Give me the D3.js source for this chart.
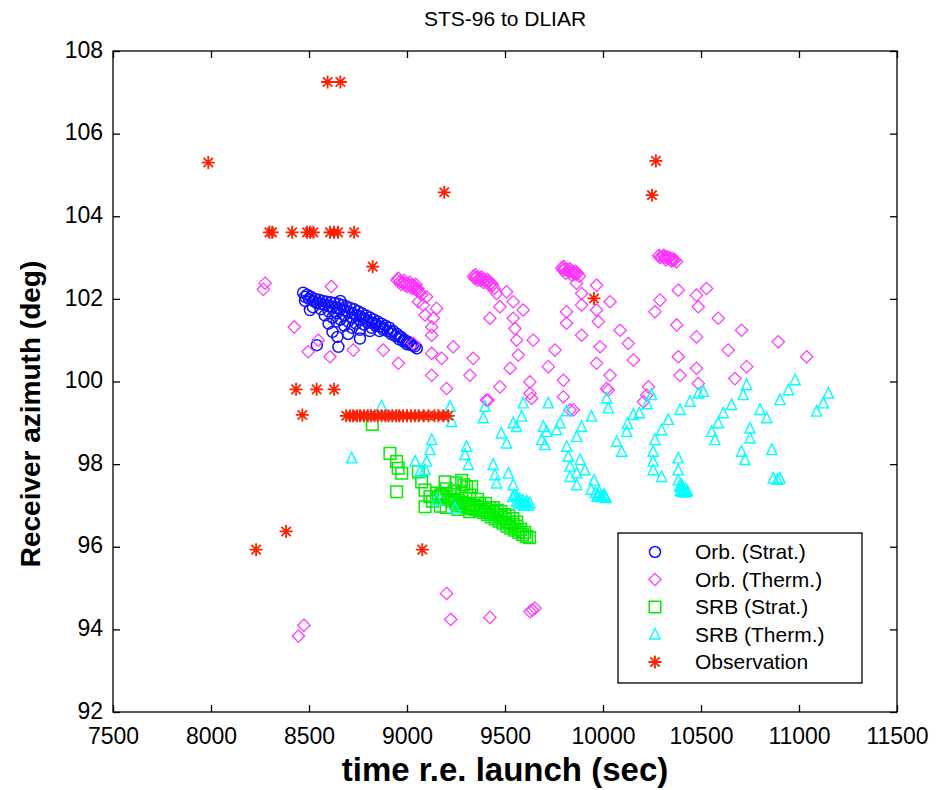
<!DOCTYPE html>
<html>
<head>
<meta charset="utf-8">
<script src="https://cdn.jsdelivr.net/npm/d3@7"></script>
<style>
  html, body { margin: 0; padding: 0; background: #fff; }
  text { font-family: "Liberation Sans", Arial, Helvetica, sans-serif; }
</style>
</head>
<body>
<svg id="chart" width="937" height="790"></svg>
<script>
// ---------------- DATA ----------------
const chartTitle = "STS-96 to DLIAR";
const xLabel = "time r.e. launch (sec)";
const yLabel = "Receiver azimuth (deg)";
const xTicks = [7500, 8000, 8500, 9000, 9500, 10000, 10500, 11000, 11500];
const yTicks = [92, 94, 96, 98, 100, 102, 104, 106, 108];
const seriesNames = ["Orb. (Strat.)", "Orb. (Therm.)", "SRB (Strat.)", "SRB (Therm.)", "Observation"];

// [time (sec), azimuth (deg)]
const orbStrat = [
  [8470,102.15],[8490,102.1],[8510,102.05],[8530,102.0],[8550,101.98],[8570,101.95],[8590,101.93],[8610,101.92],
  [8630,101.9],[8650,101.88],[8670,101.85],[8690,101.82],[8710,101.78],[8730,101.75],[8750,101.7],[8770,101.65],
  [8790,101.6],[8810,101.55],[8830,101.5],[8850,101.45],[8870,101.4],[8890,101.35],[8910,101.3],[8930,101.22],
  [8950,101.15],[8970,101.08],[8990,101.0],[9010,100.95],[9030,100.88],[9050,100.8],
  [8520,101.8],[8560,101.75],[8600,101.7],[8640,101.65],[8680,101.6],[8720,101.55],[8760,101.5],[8800,101.42],
  [8840,101.35],[8880,101.25],[8920,101.15],[8960,101.02],[9000,100.9],
  [8480,102.05],[8500,102.0],[8520,101.95],[8540,101.9],[8560,101.88],[8580,101.85],[8600,101.82],[8620,101.8],
  [8640,101.78],[8660,101.75],[8680,101.72],[8700,101.68],[8720,101.65],[8740,101.6],[8760,101.58],[8780,101.53],
  [8800,101.48],[8820,101.43],[8840,101.4],[8860,101.33],[8880,101.3],[8900,101.22],[8920,101.2],[8940,101.1],
  [8960,101.08],[8980,100.98],[9000,100.95],[9020,100.88],[9040,100.85],
  [8620,101.55],[8660,101.5],[8700,101.45],[8740,101.4],[8780,101.38],[8820,101.3],[8860,101.22],
  [8600,101.4],[8640,101.45],[8680,101.35],[8720,101.3],[8760,101.25],[8620,101.2],[8700,101.15],
  [8505,101.73],[8540,100.88],[8645,101.08],[8650,100.84],[8760,101.04],[8810,101.22],[8480,101.95],[8660,101.95],[8580,101.6]
];
const orbTherm = [
  [8276,102.38],[8267,102.23],[8614,102.3],[8425,101.32],[8496,100.72],[8547,101.0],[8607,100.6],[8726,100.76],
  [8879,100.76],[8956,100.44],[9032,100.92],
  [8950,102.45],[8965,102.42],[8980,102.4],[8995,102.38],[9010,102.35],[9025,102.33],[9040,102.3],[9055,102.25],
  [8970,102.35],[9000,102.3],[9030,102.25],[9060,102.18],[9075,102.1],
  [8955,102.5],[8985,102.45],[9015,102.4],[9045,102.35],[8990,102.33],[9020,102.28],[9050,102.2],[9065,102.15],
  [9100,102.05],[9058,101.93],[9151,101.77],[9092,101.61],[9134,101.53],[9083,101.85],[9126,101.32],[9126,101.12],
  [9236,100.84],[9126,100.68],[9177,100.56],[9338,100.56],[9126,100.15],[9321,100.15],[9202,99.83],[9405,99.55],[9474,99.87],
  [9340,102.55],[9355,102.52],[9370,102.5],[9385,102.48],[9400,102.45],[9415,102.42],[9430,102.38],[9360,102.45],
  [9390,102.4],[9420,102.33],[9445,102.25],
  [9345,102.5],[9375,102.45],[9405,102.4],[9435,102.33],[9350,102.58],[9380,102.53],[9410,102.47],
  [9457,102.13],[9508,102.17],[9423,101.53],[9474,101.81],[9542,101.93],[9593,101.73],[9542,101.53],[9551,101.28],
  [9644,101.0],[9559,101.0],[9568,100.64],[9755,100.76],[9526,100.32],[9721,100.36],[9627,99.99],[9798,100.03],
  [9627,99.71],[9414,99.55],[9798,99.63],[9849,99.31],[9636,99.59],
  [9790,102.75],[9805,102.72],[9820,102.7],[9835,102.68],[9850,102.65],[9865,102.6],[9880,102.55],[9810,102.62],[9840,102.58],
  [9795,102.7],[9825,102.65],[9855,102.6],[9800,102.78],[9830,102.73],[9860,102.67],[9870,102.62],
  [9865,102.38],[9967,102.33],[9891,102.13],[10036,101.93],[9891,101.85],[9814,101.69],[9967,101.73],[9814,101.41],
  [9976,101.45],[9891,101.12],[10087,101.24],[9985,100.84],[10129,100.92],[10155,100.52],[9967,100.44],[10036,100.15],
  [10019,99.83],[10232,99.87],[10206,99.51],[9832,99.31],
  [10285,103.05],[10300,103.02],[10315,103.0],[10330,102.98],[10345,102.95],[10360,102.93],[10375,102.9],
  [10290,103.0],[10310,103.05],[10325,103.02],[10340,103.0],[10355,102.97],[10320,102.95],[10350,102.92],[10365,102.95],
  [10291,101.97],[10384,102.21],[10265,101.69],[10477,102.09],[10528,102.25],[10486,101.81],[10376,101.37],[10588,101.53],
  [10477,101.08],[10707,101.24],[10639,100.76],[10894,100.96],[10384,100.6],[10477,100.32],[11039,100.6],[10393,100.15],
  [10733,100.36],[10673,100.07],[10486,99.95],[10027,99.79],[10223,99.67],
  [8474,94.1],[8446,93.84],[9202,94.87],[9223,94.24],[9423,94.29],[9628,94.43],[9653,94.51],[9640,94.47]
];
const srbStrat = [
  [8823,98.96],[8913,98.26],[8947,98.06],[8955,97.9],[8973,97.78],[8947,97.33],[9058,97.81],[9075,97.57],
  [9092,97.37],[9117,97.21],[9092,96.97],[9194,97.57],[9279,97.61],[9304,97.45],
  [9150,97.3],[9170,97.25],[9190,97.2],[9210,97.15],[9230,97.1],[9250,97.05],[9270,97.0],[9290,96.98],
  [9310,96.95],[9330,96.92],[9350,96.9],[9370,96.87],[9390,96.83],[9410,96.78],[9430,96.72],[9450,96.67],
  [9470,96.62],[9490,96.57],[9510,96.5],[9530,96.45],[9550,96.4],[9570,96.35],[9590,96.3],[9610,96.25],[9625,96.22],
  [9200,97.4],[9240,97.35],[9280,97.3],[9320,97.25],[9360,97.15],[9400,97.05],[9440,96.95],[9480,96.85],
  [9520,96.75],[9560,96.6],[9250,97.55],[9290,97.5],[9330,97.45],[9130,97.1],[9170,96.98],
  [9200,96.95],[9260,96.9],[9320,96.85],
  [9160,97.2],[9180,97.28],[9220,97.22],[9240,97.15],[9260,97.12],[9280,97.08],[9300,97.05],[9320,97.02],
  [9340,97.0],[9360,96.98],[9380,96.95],[9400,96.9],[9420,96.85],[9440,96.82],[9460,96.77],[9480,96.72],
  [9500,96.67],[9520,96.6],[9540,96.55],[9560,96.5],[9580,96.42],[9600,96.35],[9370,97.05],[9420,96.95],
  [9460,96.88],[9500,96.78],[9540,96.68]
];
const srbTherm = [
  [8718,98.14],[8870,99.4],[9220,99.39],[9228,99.02],[9126,98.58],[9117,98.34],[9100,98.06],[9041,98.06],
  [9066,97.81],[9092,97.86],[9304,98.42],[9296,98.22],[9313,97.98],[9151,97.13],[9245,96.93],[9398,99.39],
  [9389,99.11],[9481,98.74],[9508,98.5],[9542,98.99],[9440,97.98],[9449,97.73],[9457,97.53],[9517,97.77],
  [9542,97.49],[9559,97.21],[9585,97.05],[9627,97.05],[9540,97.2],[9560,97.1],[9575,97.15],[9600,97.0],
  [9610,97.1],[9550,97.25],[9590,97.12],[9605,97.05],[9620,97.0],[9570,97.05],[9595,97.0],
  [9593,99.47],[9585,99.15],[9559,98.9],[9721,99.47],[9696,98.9],[9713,98.78],[9704,98.46],[9687,98.58],
  [9781,98.99],[9763,98.82],[9815,98.42],[9823,98.18],[9832,97.94],[9832,97.69],[9866,97.78],[9866,97.49],
  [9866,98.66],[9814,99.28],[9941,99.15],[9891,98.9],[10019,99.59],[10027,99.35],
  [10248,99.67],[10225,99.45],[10185,99.23],[10155,99.19],[10125,98.97],[10121,98.78],[10070,98.54],[10095,98.3],
  [10333,99.07],[10299,98.82],[10265,98.58],[10256,98.3],[10256,98.06],[10256,97.85],[10299,97.69],[10384,98.14],
  [10384,97.85],[10384,97.61],[10401,97.49],[10393,99.31],[10444,99.51],[10487,99.71],[10512,99.75],
  [10656,99.43],[10614,99.23],[10588,98.99],[10554,98.78],[10571,98.58],[10733,99.91],[10716,99.67],
  [10801,99.31],[10835,99.11],[10750,98.86],[10750,98.62],[10707,98.3],[10724,98.1],[10861,98.34],
  [10980,100.03],[10946,99.79],[10903,99.55],[11150,99.71],[11124,99.47],[11090,99.27],
  [10869,97.65],[10903,97.65],[10890,97.62],
  [10390,97.45],[10400,97.4],[10410,97.38],[10420,97.4],[10430,97.35],[10395,97.35],[10405,97.32],[10425,97.32],
  [9954,97.6],[9980,97.33],[10006,97.26],[9970,97.21],[9940,97.38],[9908,97.85],[9883,98.1],[9990,97.2],
  [10010,97.2],[9960,97.3],[9975,97.25],[9995,97.22],[10015,97.18]
];
const observation = [
  [7986,105.3],[8595,107.25],[8660,107.25],[9190,104.58],
  [8298,103.61],[8312,103.61],[8414,103.61],[8490,103.61],[8505,103.61],[8522,103.61],[8607,103.61],
  [8628,103.61],[8648,103.61],[8730,103.61],
  [8825,102.78],[9954,102.01],[10250,104.51],[10270,105.34],
  [8434,99.81],[8539,99.81],[8628,99.81],[8466,99.19],
  [8690,99.17],[8710,99.17],[8725,99.17],[8745,99.17],[8760,99.17],[8780,99.17],[8800,99.17],[8815,99.17],
  [8835,99.17],[8850,99.17],[8870,99.17],[8890,99.17],[8905,99.17],[8925,99.17],[8945,99.17],[8960,99.17],
  [8980,99.17],[9000,99.17],[9020,99.17],[9040,99.17],[9060,99.17],[9085,99.17],[9110,99.17],[9140,99.17],
  [9160,99.17],[9185,99.17],[9210,99.17],
  [8383,96.37],[8230,95.93],[9078,95.93]
];

// ---------------- LAYOUT ----------------
const svg = d3.select("#chart");
const x = d3.scaleLinear().domain([7500, 11500]).range([113, 897]);
const y = d3.scaleLinear().domain([92, 108]).range([712, 51]);

const colors = {
  orbStrat: "#1010ff",
  orbTherm: "#ff33ff",
  srbStrat: "#00ee00",
  srbTherm: "#00ffff",
  observation: "#ff2000"
};

const markerPath = {
  circle: r => `M${-r},0A${r},${r} 0 1,0 ${r},0A${r},${r} 0 1,0 ${-r},0Z`,
  diamond: r => `M0,${-r}L${r},0L0,${r}L${-r},0Z`,
  square: r => `M${-r},${-r}H${r}V${r}H${-r}Z`,
  triangle: r => `M0,${-r}L${r*0.85},${r*0.75}H${-r*0.85}Z`,
  star: r => {
    const d = r * 0.72;
    return `M${-r},0H${r}M0,${-r}V${r}M${-d},${-d}L${d},${d}M${-d},${d}L${d},${-d}`;
  }
};

const series = [
  { data: orbStrat, shape: "circle", size: 5.5, color: colors.orbStrat, sw: 1.5 },
  { data: orbTherm, shape: "diamond", size: 6.2, color: colors.orbTherm, sw: 1.2 },
  { data: srbStrat, shape: "square", size: 5.8, color: colors.srbStrat, sw: 1.5 },
  { data: srbTherm, shape: "triangle", size: 6, color: colors.srbTherm, sw: 1.4 },
  { data: observation, shape: "star", size: 6.5, color: colors.observation, sw: 1.8 }
];

// plot box
svg.append("rect")
  .attr("x", x(7500)).attr("y", y(108))
  .attr("width", x(11500) - x(7500)).attr("height", y(92) - y(108))
  .attr("fill", "none").attr("stroke", "#000").attr("stroke-width", 1.3);

// axes (ticks pointing inward)
const fontTick = 23;
const xAxisB = d3.axisBottom(x).tickValues(xTicks).tickSize(-7).tickPadding(16).tickFormat(d3.format("d"));
const gxb = svg.append("g").attr("transform", `translate(0,${y(92)})`).call(xAxisB);
const xAxisT = d3.axisTop(x).tickValues(xTicks).tickSize(-7).tickFormat("");
const gxt = svg.append("g").attr("transform", `translate(0,${y(108)})`).call(xAxisT);
const yAxisL = d3.axisLeft(y).tickValues(yTicks).tickSize(-7).tickPadding(10).tickFormat(d3.format("d"));
const gyl = svg.append("g").attr("transform", `translate(${x(7500)},0)`).call(yAxisL);
const yAxisR = d3.axisRight(y).tickValues(yTicks).tickSize(-7).tickFormat("");
const gyr = svg.append("g").attr("transform", `translate(${x(11500)},0)`).call(yAxisR);

[gxb, gxt, gyl, gyr].forEach(g => {
  g.select(".domain").remove();
  g.selectAll(".tick line").attr("stroke", "#000").attr("stroke-width", 1.3);
  g.selectAll(".tick text").attr("fill", "#000").attr("font-size", fontTick)
    .attr("font-family", "'Liberation Sans', Arial, sans-serif");
});
gyl.selectAll(".tick text").attr("dy", "0.27em");

// markers
series.forEach(s => {
  svg.append("g")
    .selectAll("path")
    .data(s.data)
    .join("path")
    .attr("transform", d => `translate(${x(d[0])},${y(d[1])})`)
    .attr("d", markerPath[s.shape](s.size))
    .attr("fill", "none")
    .attr("stroke", s.color)
    .attr("stroke-width", s.sw);
});

// title
svg.append("text")
  .attr("x", (x(7500) + x(11500)) / 2).attr("y", 26)
  .attr("text-anchor", "middle").attr("font-size", 21)
  .text(chartTitle);

// x label
svg.append("text")
  .attr("x", (x(7500) + x(11500)) / 2).attr("y", 781)
  .attr("text-anchor", "middle").attr("font-size", 33).attr("font-weight", "bold")
  .text(xLabel);

// y label
svg.append("text")
  .attr("transform", `translate(40,414) rotate(-90)`)
  .attr("text-anchor", "middle").attr("font-size", 28).attr("font-weight", "bold")
  .text(yLabel);

// legend
const lg = svg.append("g");
lg.append("rect").attr("x", 618).attr("y", 533).attr("width", 244).attr("height", 150)
  .attr("fill", "#fff").attr("stroke", "#000").attr("stroke-width", 1.3);
series.forEach((s, i) => {
  const cy = 552 + i * 27.5;
  lg.append("path")
    .attr("transform", `translate(655,${cy})`)
    .attr("d", markerPath[s.shape](s.size))
    .attr("fill", "none").attr("stroke", s.color).attr("stroke-width", s.sw);
  lg.append("text").attr("x", 695).attr("y", cy).attr("dy", "0.35em")
    .attr("font-size", 21).text(seriesNames[i]);
});
</script>
</body>
</html>
